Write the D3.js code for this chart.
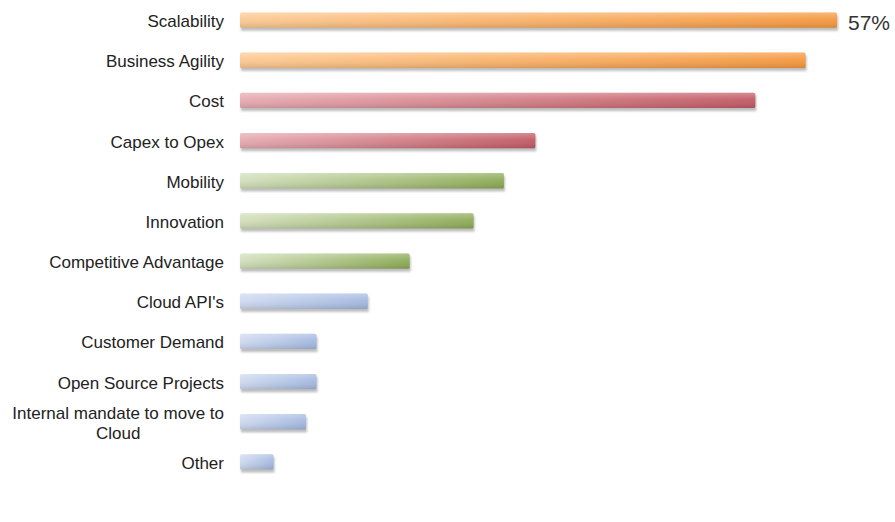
<!DOCTYPE html>
<html>
<head>
<meta charset="utf-8">
<script src="https://cdn.jsdelivr.net/npm/d3@7"></script>
<style>
  body { margin: 0; background: #fff; }
  text { font-family: "Liberation Sans", Arial, sans-serif; }
</style>
</head>
<body>
<svg id="chart" width="895" height="522"></svg>
<script>
// data (percent of respondents)
const categories = ["Scalability", "Business Agility", "Cost", "Capex to Opex", "Mobility",
  "Innovation", "Competitive Advantage", "Cloud API's", "Customer Demand",
  "Open Source Projects", "Internal mandate to move to Cloud", "Other"];
const values = [57, 54, 49.2, 28.2, 25.2, 22.3, 16.2, 12.2, 7.3, 7.3, 6.3, 3.2];
const groups = ["orange", "orange", "red", "red", "green", "green", "green",
  "blue", "blue", "blue", "blue", "blue"];
const labelLines = {"Internal mandate to move to Cloud": ["Internal mandate to move to", "Cloud"]};
const shownValue = "57%";

const palette = {
  orange: ["#fcc992", "#f5983f"],
  red:    ["#e6aab0", "#c25a64"],
  green:  ["#d2dfbb", "#8cab56"],
  blue:   ["#cfdaf0", "#a3b8e0"]
};

const svg = d3.select("#chart");

const x = d3.scaleLinear().domain([0, 57]).range([240, 837]);
const y = d3.scaleBand().domain(categories).range([0, 482])
  .paddingInner(0.62).paddingOuter(0.31);

const defs = svg.append("defs");
Object.keys(palette).forEach(k => {
  const g = defs.append("linearGradient").attr("id", "g-" + k)
    .attr("x1", "0%").attr("x2", "100%").attr("y1", "0%").attr("y2", "0%");
  g.append("stop").attr("offset", "0%").attr("stop-color", palette[k][0]);
  g.append("stop").attr("offset", "100%").attr("stop-color", palette[k][1]);
});
// vertical shading for the 3d look
const shade = defs.append("linearGradient").attr("id", "shade")
  .attr("x1", "0%").attr("x2", "0%").attr("y1", "0%").attr("y2", "100%");
shade.append("stop").attr("offset", "0%").attr("stop-color", "#fff").attr("stop-opacity", 0.3);
shade.append("stop").attr("offset", "45%").attr("stop-color", "#fff").attr("stop-opacity", 0.05);
shade.append("stop").attr("offset", "100%").attr("stop-color", "#000").attr("stop-opacity", 0.12);

defs.append("filter").attr("id", "blur")
  .append("feGaussianBlur").attr("stdDeviation", 1.2);

const rows = svg.selectAll("g.row")
  .data(categories.map((c, i) => ({c, v: values[i], grp: groups[i]})))
  .enter().append("g").attr("class", "row");

// shadow
rows.append("rect")
  .attr("x", d => x(0) + 1)
  .attr("y", d => y(d.c) + 3)
  .attr("width", d => x(d.v) - x(0))
  .attr("height", y.bandwidth())
  .attr("fill", "#888")
  .attr("opacity", 0.55)
  .attr("filter", "url(#blur)");

rows.append("rect")
  .attr("x", x(0))
  .attr("y", d => y(d.c))
  .attr("width", d => x(d.v) - x(0))
  .attr("height", y.bandwidth())
  .attr("rx", 1.5)
  .attr("fill", d => "url(#g-" + d.grp + ")");

rows.append("rect")
  .attr("x", x(0))
  .attr("y", d => y(d.c))
  .attr("width", d => x(d.v) - x(0))
  .attr("height", y.bandwidth())
  .attr("rx", 1.5)
  .attr("fill", "url(#shade)");

// category labels
rows.each(function(d) {
  const g = d3.select(this);
  const cy = y(d.c) + y.bandwidth() / 2 + 1;
  const lines = labelLines[d.c];
  if (!lines) {
    g.append("text").attr("x", 224).attr("y", cy).attr("dy", "0.35em")
      .attr("text-anchor", "end").attr("font-size", 17).attr("fill", "#222")
      .text(d.c);
  } else {
    const t1 = g.append("text").attr("x", 224).attr("y", cy - 10).attr("dy", "0.35em")
      .attr("text-anchor", "end").attr("font-size", 17).attr("fill", "#222")
      .text(lines[0]);
    const w = t1.node().getComputedTextLength();
    g.append("text").attr("x", 224 - w / 2).attr("y", cy + 10).attr("dy", "0.35em")
      .attr("text-anchor", "middle").attr("font-size", 17).attr("fill", "#222")
      .text(lines[1]);
  }
});

// value label for the top bar only
svg.append("text")
  .attr("x", x(values[0]) + 11)
  .attr("y", y(categories[0]) + y.bandwidth() / 2 + 3)
  .attr("dy", "0.35em")
  .attr("font-size", 21)
  .attr("fill", "#333")
  .text(shownValue);
</script>
</body>
</html>
